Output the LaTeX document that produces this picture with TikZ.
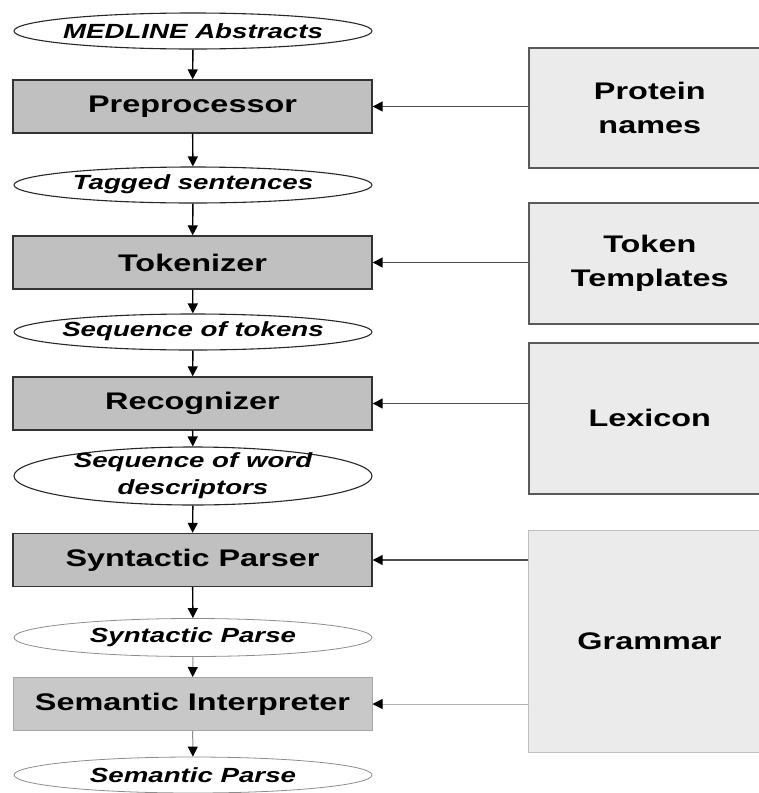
\documentclass[tikz,border=0pt]{standalone}
\usepackage{fontspec}
\setmainfont{Liberation Sans}[FakeStretch=1.35]
\usetikzlibrary{shapes.geometric,arrows.meta}
\definecolor{boxgray}{HTML}{C0C0C0}
\definecolor{boxgraylt}{HTML}{C8C8C8}
\definecolor{lightbox}{HTML}{EBEBEB}
\begin{document}
\begin{tikzpicture}[x=1pt,y=-1pt,
  proc/.style={draw=black!80, line width=1.4pt, fill=boxgray, minimum width=359pt, minimum height=53pt, inner sep=0pt, font=\fontsize{24}{28}\selectfont\bfseries},
  procfaint/.style={proc, draw=black!35, line width=1pt, fill=boxgraylt},
  ellshape/.style={ellipse, draw=black!85, line width=1.1pt, minimum width=358pt, minimum height=36pt, inner sep=0pt},
  ellfaint/.style={ellshape, draw=black!45, line width=0.8pt},
  elltext/.style={font=\fontsize{20.5}{27}\selectfont\bfseries\itshape, align=center, inner sep=0pt},
  res/.style={draw=black!65, line width=1.6pt, fill=lightbox, minimum width=242pt, inner sep=0pt, align=center, font=\fontsize{24}{34}\selectfont\bfseries},
  resfaint/.style={res, draw=black!25, line width=1pt},
  flow/.style={-{Triangle[length=10pt,width=10pt,color=black]}, line width=1.4pt},
  flowfaint/.style={flow, draw=black!45, line width=1pt},
  feed/.style={flow, draw=black!70, line width=1.5pt},
  feedfaint/.style={flow, draw=black!30, line width=1pt}
]
\useasboundingbox (0,0) rectangle (759,793);

% left column
\node[ellshape] (m) at (193,31) {};
\node[elltext] (mt) at (m) {MEDLINE Abstracts};
\node[proc] (pre) at (192.5,106.5) {Preprocessor};
\node[ellshape] (tag) at (193,185) {};
\node[elltext] (tagt) at ([yshift=1pt]tag.center) {Tagged sentences};
\node[proc] (tok) at (192.5,262.5) {Tokenizer};
\node[ellshape] (seqt) at (193,332) {};
\node[elltext] (seqtt) at ([yshift=1pt]seqt.center) {Sequence of tokens};
\node[proc] (rec) at (192.5,403.5) {Recognizer};
\node[ellshape, minimum height=58pt] (seqw) at (193,476) {};
\node[elltext] (seqwt) at (seqw) {Sequence of word\\descriptors};
\node[proc] (syn) at (192.5,560) {Syntactic Parser};
\node[ellfaint, minimum height=38pt] (synp) at (193,637.5) {};
\node[elltext] (synpt) at (synp) {Syntactic Parse};
\node[procfaint] (sem) at (192.5,704) {Semantic Interpreter};
\node[ellfaint] (semp) at (193,775) {};
\node[elltext] (sempt) at (semp) {Semantic Parse};

% right column (boxes run off the right edge)
\node[res, minimum height=120pt, anchor=north west] (pn) at (528,47) {Protein\\names};
\node[res, minimum height=121pt, anchor=north west] (tt) at (528,202) {Token\\Templates};
\node[res, minimum height=151pt, anchor=north west] (lex) at (528,342) {Lexicon};
\node[resfaint, minimum height=222pt, anchor=north west] (gr) at (528,530) {Grammar};

% vertical flow
\draw[flow] (m) -- (pre);
\draw[flow] (pre) -- (tag);
\draw[flow] (tag) -- (tok);
\draw[flow] (tok) -- (seqt);
\draw[flow] (seqt) -- (rec);
\draw[flow] (rec) -- (seqw);
\draw[flow] (seqw) -- (syn);
\draw[flow] (syn) -- (synp);
\draw[flowfaint] (synp) -- (sem);
\draw[flowfaint] (sem) -- (semp);

% feeds
\draw[feed] (pn.west |- pre.east) -- (pre.east);
\draw[feed] (tt.west |- tok.east) -- (tok.east);
\draw[feed] (lex.west |- rec.east) -- (rec.east);
\draw[feed] (gr.west |- syn.east) -- (syn.east);
\draw[feedfaint] (gr.west |- sem.east) -- (sem.east);
\end{tikzpicture}
\end{document}
